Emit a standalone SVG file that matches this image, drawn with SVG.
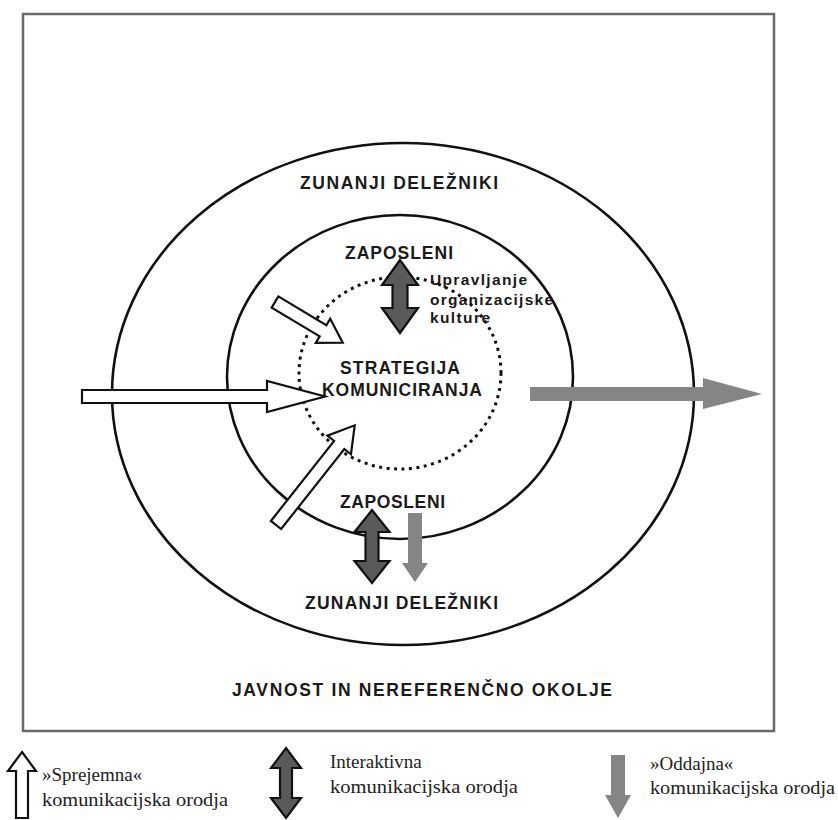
<svg xmlns="http://www.w3.org/2000/svg" width="838" height="820" viewBox="0 0 838 820">
<defs>
<style>
.bg{fill:#ffffff}
.frame{fill:none;stroke:#6a6a6a;stroke-width:2.5}
.ring{fill:none;stroke:#111111;stroke-width:2.6}
.dots{fill:none;stroke:#111111;stroke-width:3;stroke-dasharray:3 4.5}
.lbl{font-family:"Liberation Sans",Arial,sans-serif;font-weight:bold;font-size:17.5px;fill:#1a1a1a}
.sm{font-family:"Liberation Sans",Arial,sans-serif;font-weight:bold;font-size:15.5px;fill:#1a1a1a}
.leg{font-family:"Liberation Serif","Times New Roman",serif;font-size:19px;fill:#222222}
.inArrow{fill:#ffffff;stroke:#111111;stroke-width:2.2;stroke-linejoin:miter}
.biArrow{fill:#5a5a5a;stroke:#111111;stroke-width:2.2;stroke-linejoin:miter}
.outArrow{fill:#858585;stroke:none}
</style>
</defs>
<rect class="bg" x="0" y="0" width="838" height="820"/>
<rect class="frame" x="23" y="14" width="751" height="717"/>

<g id="outer-ring">
<ellipse class="ring" cx="403" cy="394" rx="291" ry="251"/>
<text class="lbl" x="300" y="189" textLength="198" lengthAdjust="spacing">ZUNANJI DELEŽNIKI</text>
<text class="lbl" x="305" y="609" textLength="193" lengthAdjust="spacing">ZUNANJI DELEŽNIKI</text>
</g>

<g id="inner-ring">
<ellipse class="ring" cx="400" cy="377" rx="173" ry="162"/>
<text class="lbl" x="345" y="259" textLength="108" lengthAdjust="spacing">ZAPOSLENI</text>
<text class="lbl" x="340" y="508" textLength="105" lengthAdjust="spacing">ZAPOSLENI</text>
</g>

<g id="core">
<ellipse class="dots" cx="400" cy="373" rx="101" ry="96"/>
<text class="lbl" x="340" y="374" textLength="120" lengthAdjust="spacing">STRATEGIJA</text>
<text class="lbl" x="322" y="396" textLength="160" lengthAdjust="spacing">KOMUNICIRANJA</text>
</g>

<g id="culture-label">
<text class="sm" x="430" y="285" textLength="97" lengthAdjust="spacing">Upravljanje</text>
<text class="sm" x="430" y="305" textLength="123" lengthAdjust="spacing">organizacijske</text>
<text class="sm" x="430" y="323" textLength="60" lengthAdjust="spacing">kulture</text>
</g>

<g id="environment">
<text class="lbl" x="232" y="696" textLength="380" lengthAdjust="spacing">JAVNOST IN NEREFERENČNO OKOLJE</text>
</g>

<g id="connectors">
<polygon class="inArrow" points="82,390 267,390 267,381 325,396.5 267,412 267,403 82,403"/>
<polygon class="inArrow" transform="translate(275,302) rotate(31)" points="0,-6.5 56,-6.5 56,-14 79,0 56,14 56,6.5 0,6.5"/>
<polygon class="inArrow" transform="translate(276,525) rotate(-51.7)" points="0,-6.5 102,-6.5 102,-15 127,0 102,15 102,6.5 0,6.5"/>
<polygon class="outArrow" points="530,387 703,387 703,378 762,394 703,409 703,401 530,401"/>
<polygon class="biArrow" points="400,260 418,285 407.5,285 407.5,308 418,308 400,333 382,308 392.5,308 392.5,285 382,285"/>
<polygon class="biArrow" points="372,510 389.5,532 378.5,532 378.5,561 389.5,561 372,583 354.5,561 365.5,561 365.5,532 354.5,532"/>
<polygon class="outArrow" points="408,513 422,513 422,563 428,563 415,582 402,563 408,563"/>
</g>

<g id="legend-receive">
<polygon class="inArrow" points="22,752 36,771 28,771 28,818 16,818 16,771 8,771"/>
<text class="leg" x="42" y="781">»Sprejemna«</text>
<text class="leg" x="42" y="806" textLength="186" lengthAdjust="spacingAndGlyphs">komunikacijska orodja</text>
</g>

<g id="legend-interactive">
<polygon class="biArrow" points="286,748 301,768 292,768 292,798 301,798 286,818 271,798 280,798 280,768 271,768"/>
<text class="leg" x="330" y="768">Interaktivna</text>
<text class="leg" x="330" y="793" textLength="188" lengthAdjust="spacingAndGlyphs">komunikacijska orodja</text>
</g>

<g id="legend-send">
<polygon class="outArrow" points="611,755 625,755 625,795 631,795 618,818 605,795 611,795"/>
<text class="leg" x="650" y="770">»Oddajna«</text>
<text class="leg" x="650" y="794" textLength="185" lengthAdjust="spacingAndGlyphs">komunikacijska orodja</text>
</g>
</svg>
